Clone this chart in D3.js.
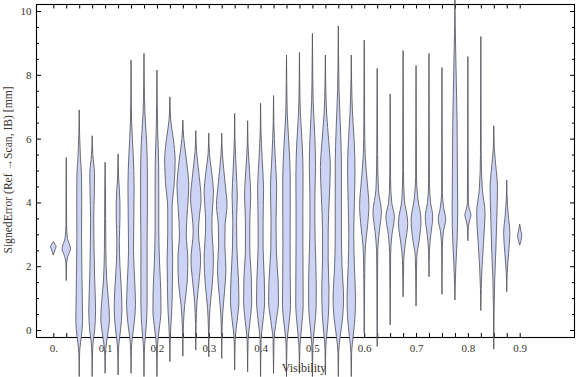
<!DOCTYPE html>
<html>
<head>
<meta charset="utf-8">
<script src="https://cdn.jsdelivr.net/npm/d3@7"></script>
<style>
  body { margin: 0; background: #fff; }
  text { font-family: "Liberation Serif", "DejaVu Serif", serif; }
</style>
</head>
<body>
<div id="chart"></div>
<script>
// x categories (visibility bins)
const visibility = [0, 0.025, 0.05, 0.075, 0.1, 0.125, 0.15, 0.175, 0.2, 0.225,
  0.25, 0.275, 0.3, 0.325, 0.35, 0.375, 0.4, 0.425, 0.45, 0.475, 0.5, 0.525,
  0.55, 0.575, 0.6, 0.625, 0.65, 0.675, 0.7, 0.725, 0.75, 0.775, 0.8, 0.825,
  0.85, 0.875, 0.9]

// density outline for each bin: [signed error, relative density], top to bottom
const densityKnots = [
  [[2.77,0],[2.68,0.3],[2.62,0.45],[2.5,0.25],[2.35,0]],
  [[5.41,0],[4.5,0.03],[3.3,0.05],[2.87,0.2],[2.55,0.68],[2.3,0.25],[2.1,0.06],[1.55,0]],
  [[6.9,0],[6.2,0.05],[5.4,0.2],[4.8,0.38],[4.0,0.4],[3.0,0.38],[2.0,0.42],[1.0,0.5],[0.3,0.55],[-0.2,0.35],[-0.6,0.1],[-1.0,0.03],[-1.46,0]],
  [[6.09,0],[5.5,0.1],[4.9,0.38],[4.3,0.35],[3.5,0.25],[2.6,0.3],[1.6,0.4],[0.6,0.55],[0.0,0.4],[-0.5,0.1],[-1.0,0.03],[-1.46,0]],
  [[5.26,0],[4.5,0.05],[3.5,0.08],[2.5,0.12],[1.6,0.25],[0.9,0.55],[0.35,0.7],[-0.1,0.45],[-0.6,0.1],[-1.0,0.03],[-1.36,0]],
  [[5.52,0],[4.8,0.08],[4.0,0.3],[3.5,0.3],[2.8,0.2],[2.0,0.3],[1.2,0.55],[0.6,0.62],[0.0,0.4],[-0.5,0.1],[-1.0,0.03],[-1.41,0]],
  [[8.46,0],[7.5,0.03],[6.5,0.1],[5.5,0.35],[4.5,0.5],[3.5,0.45],[2.5,0.4],[1.5,0.6],[0.8,0.72],[0.2,0.5],[-0.4,0.12],[-0.9,0.03],[-1.36,0]],
  [[8.67,0],[7.8,0.04],[6.8,0.15],[5.8,0.45],[4.8,0.55],[3.8,0.55],[2.8,0.5],[1.8,0.5],[0.8,0.5],[0.1,0.35],[-0.5,0.1],[-1.0,0.03],[-1.46,0]],
  [[8.15,0],[7.2,0.04],[6.2,0.12],[5.2,0.28],[4.2,0.3],[3.2,0.3],[2.2,0.4],[1.2,0.62],[0.6,0.65],[0.0,0.35],[-0.5,0.08],[-1.0,0.03],[-1.46,0]],
  [[7.31,0],[6.6,0.12],[6.0,0.55],[5.3,0.85],[4.6,0.7],[3.8,0.35],[3.0,0.35],[2.2,0.45],[1.4,0.4],[0.6,0.3],[0.0,0.12],[-0.5,0.03],[-0.99,0]],
  [[6.58,0],[6.0,0.15],[5.3,0.6],[4.5,0.95],[3.8,0.75],[3.0,0.55],[2.2,0.8],[1.5,0.7],[0.8,0.3],[0.2,0.1],[-0.3,0.03],[-0.82,0]],
  [[6.25,0],[5.6,0.12],[4.9,0.5],[4.1,0.85],[3.6,0.6],[3.1,0.42],[2.2,0.78],[1.5,0.5],[0.9,0.2],[0.2,0.05],[-0.63,0]],
  [[6.17,0],[5.5,0.12],[4.9,0.5],[4.3,0.75],[3.8,0.6],[3.3,0.5],[2.2,0.75],[1.4,0.55],[0.7,0.2],[0.0,0.05],[-0.84,0]],
  [[6.17,0],[5.5,0.12],[4.6,0.55],[3.9,0.85],[3.3,0.55],[2.7,0.5],[1.9,0.68],[1.2,0.45],[0.5,0.15],[-0.2,0.04],[-0.89,0]],
  [[6.79,0],[6.0,0.05],[5.0,0.25],[4.2,0.42],[3.4,0.3],[2.6,0.35],[1.6,0.6],[0.9,0.68],[0.3,0.4],[-0.3,0.08],[-0.8,0.03],[-1.25,0]],
  [[6.56,0],[5.8,0.06],[5.0,0.3],[4.2,0.5],[3.4,0.35],[2.6,0.35],[1.6,0.6],[0.9,0.65],[0.3,0.4],[-0.3,0.08],[-0.8,0.03],[-1.31,0]],
  [[7.11,0],[6.3,0.05],[5.4,0.25],[4.4,0.48],[3.4,0.4],[2.6,0.4],[1.6,0.6],[0.9,0.65],[0.3,0.4],[-0.3,0.08],[-0.9,0.03],[-1.46,0]],
  [[7.35,0],[6.5,0.05],[5.5,0.25],[4.4,0.5],[3.4,0.4],[2.5,0.45],[1.5,0.75],[0.9,0.8],[0.3,0.45],[-0.3,0.08],[-0.9,0.03],[-1.36,0]],
  [[8.62,0],[7.8,0.04],[6.8,0.12],[5.8,0.4],[4.8,0.6],[3.8,0.6],[2.8,0.58],[1.8,0.6],[0.8,0.65],[0.2,0.4],[-0.4,0.08],[-0.9,0.03],[-1.46,0]],
  [[8.7,0],[7.8,0.04],[6.8,0.15],[5.8,0.45],[4.8,0.58],[3.8,0.55],[2.8,0.55],[1.8,0.58],[0.8,0.6],[0.1,0.35],[-0.5,0.08],[-0.9,0.03],[-1.36,0]],
  [[9.3,0],[8.4,0.04],[7.2,0.12],[6.0,0.4],[5.1,0.5],[4.2,0.4],[3.3,0.4],[2.4,0.5],[1.4,0.62],[0.7,0.6],[0.1,0.35],[-0.5,0.08],[-1.0,0.03],[-1.46,0]],
  [[8.62,0],[7.8,0.05],[6.8,0.2],[5.9,0.55],[5.1,0.8],[4.2,0.65],[3.1,0.45],[2.2,0.45],[1.3,0.58],[0.5,0.5],[-0.1,0.25],[-0.6,0.06],[-1.0,0.03],[-1.41,0]],
  [[9.53,0],[8.6,0.04],[7.5,0.12],[6.3,0.35],[5.2,0.5],[4.0,0.5],[3.0,0.5],[2.0,0.6],[1.0,0.85],[0.4,0.7],[-0.2,0.3],[-0.7,0.06],[-1.1,0.03],[-1.46,0]],
  [[8.62,0],[7.8,0.05],[6.8,0.2],[5.8,0.5],[5.0,0.6],[4.0,0.5],[3.0,0.4],[2.0,0.5],[1.0,0.68],[0.4,0.6],[-0.2,0.3],[-0.7,0.06],[-1.1,0.03],[-1.46,0]],
  [[9.09,0],[8.0,0.04],[6.5,0.06],[5.5,0.15],[4.6,0.5],[3.9,0.75],[3.2,0.5],[2.6,0.18],[1.8,0.08],[0.8,0.04],[-0.1,0]],
  [[8.2,0],[7.0,0.04],[5.5,0.07],[4.4,0.2],[3.7,0.68],[3.1,0.35],[2.5,0.1],[1.5,0.05],[0.5,0.04],[-0.52,0]],
  [[7.4,0],[6.0,0.04],[4.7,0.07],[4.0,0.25],[3.55,0.68],[3.0,0.3],[2.4,0.08],[1.2,0.04],[0.16,0]],
  [[8.76,0],[7.0,0.04],[5.0,0.06],[4.1,0.2],[3.35,0.75],[2.7,0.35],[2.2,0.1],[1.6,0.05],[1.04,0]],
  [[8.29,0],[6.5,0.04],[4.8,0.07],[4.1,0.3],[3.45,0.8],[2.8,0.5],[2.3,0.12],[1.5,0.05],[0.75,0]],
  [[8.67,0],[6.5,0.04],[4.6,0.07],[4.0,0.25],[3.55,0.6],[3.0,0.3],[2.5,0.07],[1.67,0]],
  [[8.23,0],[6.0,0.04],[4.3,0.06],[3.8,0.3],[3.47,0.6],[3.1,0.25],[2.6,0.06],[1.12,0]],
  [[10.4,0],[9.5,0.05],[8.0,0.2],[6.5,0.35],[5.0,0.4],[3.8,0.45],[2.8,0.35],[2.0,0.15],[1.4,0.05],[0.94,0]],
  [[8.57,0],[6.0,0.03],[4.0,0.08],[3.75,0.3],[3.61,0.5],[3.45,0.3],[3.2,0.06],[2.8,0]],
  [[9.2,0],[7.5,0.03],[5.5,0.06],[4.4,0.25],[3.66,0.68],[2.8,0.45],[2.0,0.2],[1.3,0.06],[0.61,0]],
  [[6.4,0],[5.7,0.08],[5.0,0.4],[4.49,0.6],[3.6,0.5],[2.6,0.35],[1.6,0.15],[0.6,0.05],[-0.6,0]],
  [[4.7,0],[4.2,0.05],[3.6,0.25],[3.03,0.5],[2.4,0.3],[1.8,0.08],[1.2,0]],
  [[3.32,0],[3.1,0.2],[2.98,0.33],[2.8,0.2],[2.66,0]]
]

const xLabelTicks = [0, 0.1, 0.2, 0.3, 0.4, 0.5, 0.6, 0.7, 0.8, 0.9]
const yLabelTicks = [0, 2, 4, 6, 8, 10]
const yMinorTicks = [0.5, 1, 1.5, 2.5, 3, 3.5, 4.5, 5, 5.5, 6.5, 7, 7.5, 8.5, 9, 9.5]

let dim = {width: 576, height: 377}
let frame = {left: 36, right: 575, top: 4, bottom: 337}

let svg = d3.select('#chart').append('svg')
    .attr('width', dim.width)
    .attr('height', dim.height)

let x = d3.scaleLinear().domain([0, 0.9]).range([53.3, 519.7])
let y = d3.scaleLinear().domain([0, 10]).range([330, 11])
let w = d3.scaleLinear().domain([0, 1]).range([0, 6.2])

// frame
svg.append('rect')
    .attr('x', frame.left + 0.5).attr('y', frame.top + 0.5)
    .attr('width', frame.right - frame.left - 1)
    .attr('height', frame.bottom - frame.top)
    .attr('fill', 'none').attr('stroke', '#000').attr('stroke-width', 1.1)

function cleanAxis(g) {
  g.select('.domain').remove()
  g.selectAll('.tick line').attr('stroke', '#000')
  g.selectAll('text').attr('fill', '#3a3530').style('font-size', '11px')
    .style('font-family', '"Liberation Serif", serif')
}

// x axes: ticks at every bin, labels every 0.1
svg.append('g')
    .attr('transform', `translate(0,${frame.bottom})`)
    .call(d3.axisBottom(x).tickValues(visibility).tickSize(-4).tickPadding(7)
      .tickFormat(d => xLabelTicks.some(t => Math.abs(t - d) < 1e-9) ? (d === 0 ? '0.' : d3.format('.1f')(d)) : ''))
    .call(cleanAxis)

svg.append('g')
    .attr('transform', `translate(0,${frame.top + 0.5})`)
    .call(d3.axisTop(x).tickValues(visibility).tickSize(-4).tickFormat(''))
    .call(cleanAxis)

// y axes
svg.append('g')
    .attr('transform', `translate(${frame.left + 0.5},0)`)
    .call(d3.axisLeft(y).tickValues(yLabelTicks).tickSize(-4.5).tickPadding(5).tickFormat(d3.format('d')))
    .call(cleanAxis)
svg.append('g')
    .attr('transform', `translate(${frame.left + 0.5},0)`)
    .call(d3.axisLeft(y).tickValues(yMinorTicks).tickSize(-2.5).tickFormat(''))
    .call(cleanAxis)
svg.append('g')
    .attr('transform', `translate(${frame.right - 0.5},0)`)
    .call(d3.axisRight(y).tickValues(yLabelTicks).tickSize(-4.5).tickFormat(''))
    .call(cleanAxis)
svg.append('g')
    .attr('transform', `translate(${frame.right - 0.5},0)`)
    .call(d3.axisRight(y).tickValues(yMinorTicks).tickSize(-2.5).tickFormat(''))
    .call(cleanAxis)

// violins
let violin = d3.area()
    .curve(d3.curveMonotoneY)
    .y(d => y(d[0]))
    .x0(d => -w(d[1]))
    .x1(d => w(d[1]))

svg.selectAll('g.violin')
    .data(densityKnots)
    .enter()
    .append('g')
    .attr('class', 'violin')
    .attr('transform', (d, i) => `translate(${x(visibility[i])},0)`)
    .append('path')
    .attr('d', violin)
    .attr('fill', '#ccd3f4')
    .attr('stroke', '#55555c')
    .attr('stroke-width', 0.85)
    .attr('stroke-linejoin', 'round')

// axis titles
svg.append('text')
    .attr('x', 304).attr('y', 372)
    .attr('text-anchor', 'middle')
    .attr('fill', '#3a3530')
    .style('font-size', '12px')
    .text('Visibility')

svg.append('text')
    .attr('transform', 'translate(12,170) rotate(-90)')
    .attr('text-anchor', 'middle')
    .attr('fill', '#3a3530')
    .style('font-size', '11.6px')
    .text('SignedError (Ref →Scan, IB) [mm]')
</script>
</body>
</html>
